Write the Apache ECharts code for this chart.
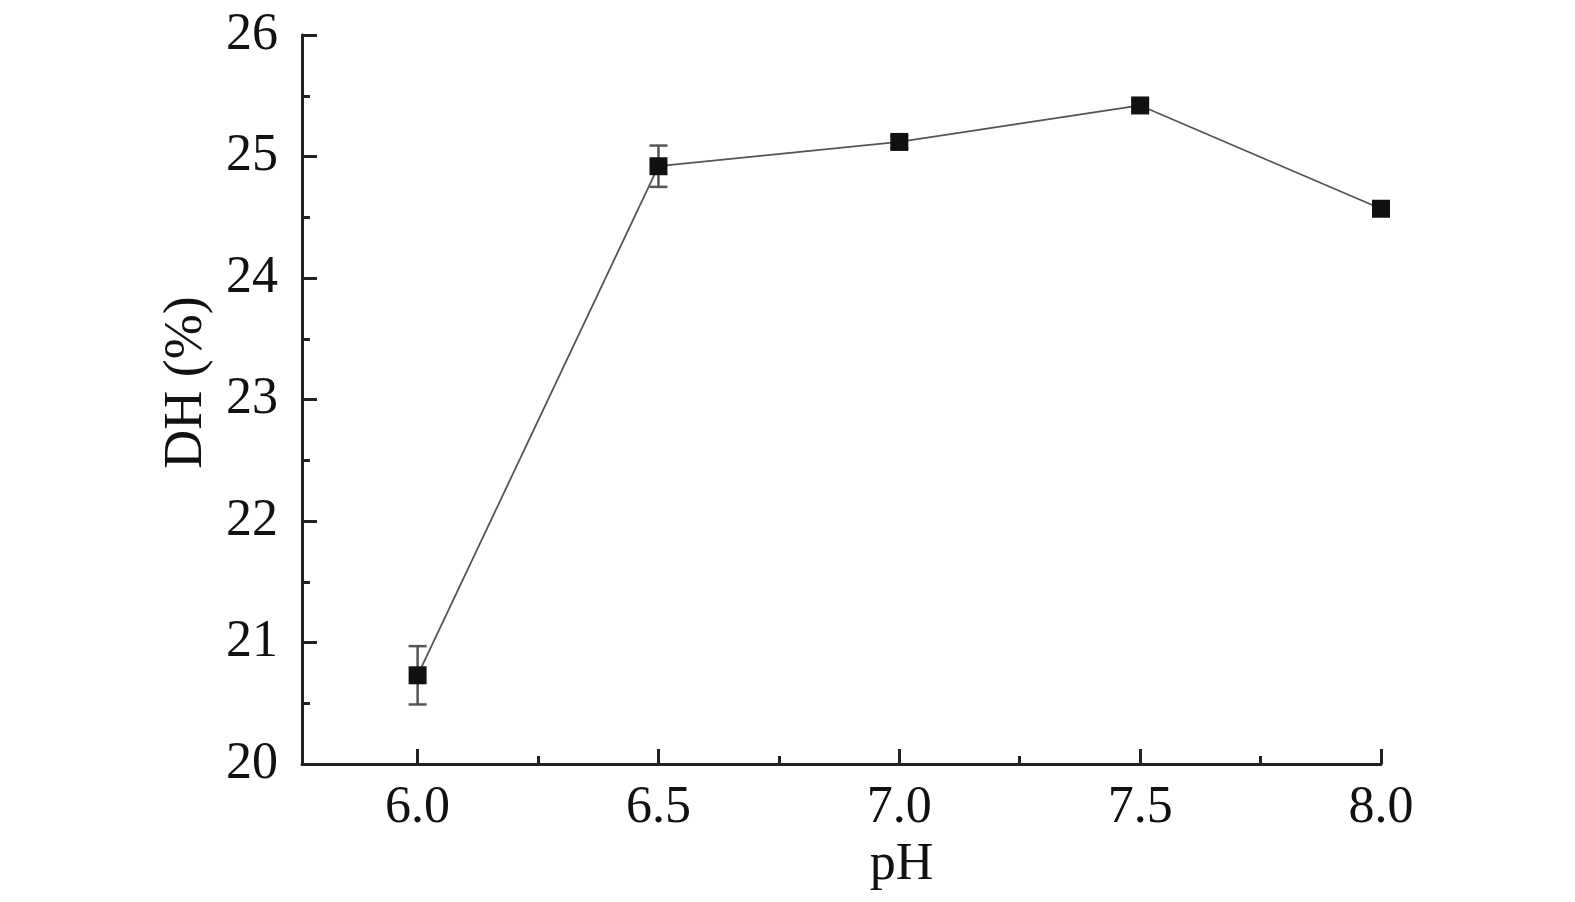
<!DOCTYPE html>
<html>
<head>
<meta charset="utf-8">
<title>DH vs pH</title>
<script src="https://cdn.jsdelivr.net/npm/echarts@6/dist/echarts.min.js"></script>
<style>
  html, body { margin: 0; padding: 0; background: #fff; }
  #chart { width: 1575px; height: 902px; }
</style>
</head>
<body>
<div id="chart"></div>
<script>
// data
const phValues = [6.0, 6.5, 7.0, 7.5, 8.0];
const dhValues = [20.73, 24.92, 25.12, 25.42, 24.57];
const dhErrors = [0.24, 0.17, 0.05, 0.04, 0.02];
const majorTicks = [6.0, 6.5, 7.0, 7.5, 8.0];
const minorTicks = [6.25, 6.75, 7.25, 7.75];

const font = '"Liberation Serif", "Times New Roman", serif';
const axisColor = '#222';

const points = phValues.map((x, i) => [x, dhValues[i]]);
const errData = phValues.map((x, i) => [x, dhValues[i] - dhErrors[i], dhValues[i] + dhErrors[i]]);

const chart = echarts.init(document.getElementById('chart'));

const option = {
  animation: false,
  backgroundColor: '#fff',
  grid: { left: 302, top: 35, right: 194, bottom: 138 },
  xAxis: [
    {
      type: 'value',
      min: 5.76,
      max: 8.0,
      name: 'pH',
      nameLocation: 'middle',
      nameGap: 70,
      // the title sits right of the axis middle in the original
      nameTextStyle: { fontFamily: font, fontSize: 52, color: '#111', padding: [0, 0, 0, 120] },
      splitLine: { show: false },
      axisLine: { show: true, lineStyle: { color: axisColor, width: 3 } },
      axisTick: { inside: true, length: 15, customValues: majorTicks, lineStyle: { color: axisColor, width: 3 } },
      axisLabel: {
        customValues: majorTicks,
        margin: 18,
        fontFamily: font, fontSize: 52, color: '#111',
        formatter: v => v.toFixed(1)
      }
    },
    {
      type: 'value',
      min: 5.76,
      max: 8.0,
      position: 'bottom',
      splitLine: { show: false },
      axisLine: { show: false },
      axisLabel: { show: false },
      axisTick: { inside: true, length: 8, customValues: minorTicks, lineStyle: { color: axisColor, width: 3 } }
    }
  ],
  yAxis: {
    type: 'value',
    min: 20,
    max: 26,
    interval: 1,
    name: 'DH (%)',
    nameLocation: 'middle',
    nameGap: 88,
    nameTextStyle: { fontFamily: font, fontSize: 54, color: '#111', padding: [0, 0, 0, 34] },
    splitLine: { show: false },
    axisLine: { show: true, lineStyle: { color: axisColor, width: 3 } },
    axisTick: { inside: true, length: 15, lineStyle: { color: axisColor, width: 3 } },
    minorTick: { show: true, splitNumber: 2, length: 8, lineStyle: { color: axisColor, width: 3 } },
    axisLabel: { margin: 24, fontFamily: font, fontSize: 52, color: '#111' }
  },
  series: [
    {
      type: 'custom',
      name: 'err',
      xAxisIndex: 0,
      data: errData,
      z: 1,
      renderItem: function (params, api) {
        const x = api.value(0);
        const lo = api.coord([x, api.value(1)]);
        const hi = api.coord([x, api.value(2)]);
        const half = 9;
        const style = { stroke: '#555', lineWidth: 2.5 };
        return {
          type: 'group',
          children: [
            { type: 'line', shape: { x1: lo[0], y1: lo[1], x2: hi[0], y2: hi[1] }, style: style },
            { type: 'line', shape: { x1: lo[0] - half, y1: lo[1], x2: lo[0] + half, y2: lo[1] }, style: style },
            { type: 'line', shape: { x1: hi[0] - half, y1: hi[1], x2: hi[0] + half, y2: hi[1] }, style: style }
          ]
        };
      }
    },
    {
      type: 'line',
      name: 'DH',
      xAxisIndex: 0,
      data: points,
      z: 2,
      symbol: 'rect',
      symbolSize: 18,
      itemStyle: { color: '#111' },
      lineStyle: { color: '#555', width: 1.8 }
    }
  ]
};

chart.setOption(option);
</script>
</body>
</html>
